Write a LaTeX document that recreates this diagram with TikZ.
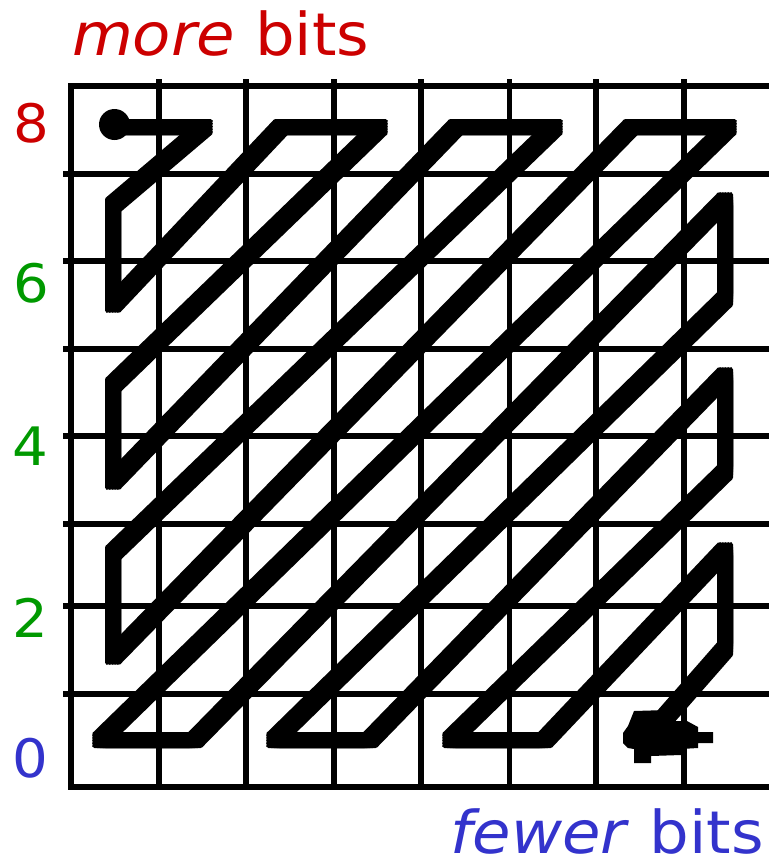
\documentclass[tikz,border=0pt]{standalone}
\usepackage{fontspec}
\setmainfont[FakeStretch=1.06]{DejaVu Sans}
\definecolor{redtxt}{RGB}{204,0,0}
\definecolor{greentxt}{RGB}{0,153,0}
\definecolor{bluetxt}{RGB}{51,51,204}
\begin{document}
\begin{tikzpicture}[x=1pt,y=-1pt,
  gridline/.style={line width=5.5pt, line cap=butt},
  zz/.style={line width=5pt, line join=round, line cap=round},
  lbl/.style={inner sep=0pt, outer sep=0pt},
  bigtxt/.style={lbl, font=\fontsize{59}{60}\selectfont},
  numtxt/.style={lbl, anchor=base, font=\fontsize{53}{54}\selectfont},
]
\useasboundingbox (0,0) rectangle (769,860);
% grid
\foreach \y in {174,261,349,436,524,606,694} \draw[gridline] (63,\y) -- (769,\y);
\draw[gridline] (68,86) -- (769,86);
\draw[gridline] (68,787) -- (769,787);
\draw[gridline] (71,83) -- (71,790);
\foreach \x in {159,246,334,421,509.5,596,684} \draw[gridline] (\x,79) -- (\x,787);
% zigzag vertices
\coordinate (p0) at (114,127);
\coordinate (p1) at (205,127);
\coordinate (p2) at (113,205);
\coordinate (p3) at (113,305);
\coordinate (p4) at (281,127);
\coordinate (p5) at (380,127);
\coordinate (p6) at (113,385);
\coordinate (p7) at (113,482);
\coordinate (p8) at (456,127);
\coordinate (p9) at (555,127);
\coordinate (p10) at (113,553);
\coordinate (p11) at (113,657);
\coordinate (p12) at (631,127);
\coordinate (p13) at (729,127);
\coordinate (p14) at (100,740);
\coordinate (p15) at (195,740);
\coordinate (p16) at (725,200);
\coordinate (p17) at (725,299);
\coordinate (p18) at (274,740);
\coordinate (p19) at (370,740);
\coordinate (p20) at (725,375);
\coordinate (p21) at (725,472);
\coordinate (p22) at (450,740);
\coordinate (p23) at (545,740);
\coordinate (p24) at (725,550);
\coordinate (p25) at (725,649);
\coordinate (p26) at (647,738);
\foreach \dx in {-5.5,-2.75,0,2.75,5.5}{
  \foreach \dy in {-5.5,-2.75,0,2.75,5.5}{
    \begin{scope}[transform canvas={shift={(\dx pt,\dy pt)}}]
      \draw[zz] (p0) -- (p1) -- (p2) -- (p3) -- (p4) -- (p5) -- (p6) -- (p7)
        -- (p8) -- (p9) -- (p10) -- (p11) -- (p12) -- (p13) -- (p14) -- (p15)
        -- (p16) -- (p17) -- (p18) -- (p19) -- (p20) -- (p21) -- (p22) -- (p23)
        -- (p24) -- (p25) -- (p26);
    \end{scope}
  }
}
% start dot
\fill (114.5,124.5) circle[radius=15.5pt];
% end blob
\fill (623,733) -- (628,726) -- (634,711) -- (667,710) -- (667,721) -- (687,721)
  -- (698,727) -- (698,732) -- (713,732) -- (713,743) -- (698,743) -- (698,748)
  -- (681,749) -- (681,755) -- (651,756) -- (651,763) -- (634,763) -- (634,749)
  -- (628,748) -- (623,743) -- cycle;
% labels
\node[bigtxt, anchor=base west, text=redtxt] (more) at (72,55) {\textit{more} bits};
\node[bigtxt, anchor=base east, text=bluetxt] (fewer) at (764,853) {\textit{fewer} bits};
\node[numtxt, text=redtxt] (n8) at (31,142) {8};
\node[numtxt, text=greentxt] (n6) at (31,302) {6};
\node[numtxt, text=greentxt] (n4) at (30,465) {4};
\node[numtxt, text=greentxt] (n2) at (30,637) {2};
\node[numtxt, text=bluetxt] (n0) at (30.5,777) {0};
\end{tikzpicture}
\end{document}
